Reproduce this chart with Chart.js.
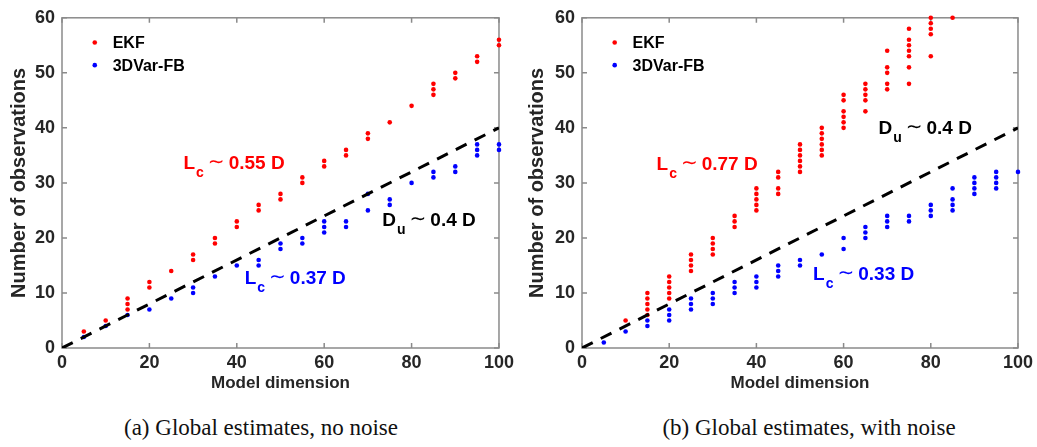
<!DOCTYPE html>
<html>
<head>
<meta charset="utf-8">
<script src="https://cdn.jsdelivr.net/npm/chart.js@4"></script>
<style>
  body { margin: 0; background: #fff; width: 1037px; height: 447px; position: relative; overflow: hidden; }
  canvas { position: absolute; top: 0; }
  #left { left: 0; }
  #right { left: 518px; }
  .caption { position: absolute; top: 415px; font-family: "Liberation Serif", "Times New Roman", serif; font-size: 23px; color: #111; white-space: nowrap; transform: translateX(-50%); }
</style>
</head>
<body>
<canvas id="left" width="518" height="400"></canvas>
<canvas id="right" width="519" height="400"></canvas>
<div class="caption" style="left:261px">(a) Global estimates, no noise</div>
<div class="caption" style="left:809px">(b) Global estimates, with noise</div>
<script>
// model dimensions (x positions of the point columns)
const dims = [5, 10, 15, 20, 25, 30, 35, 40, 45, 50, 55, 60, 65, 70, 75, 80, 85, 90, 95, 100];

// (a) no noise
const ekfNoNoise = [[3], [5], [9, 8, 7], [12, 11], [14], [17, 16], [20, 19], [23, 22], [26, 25], [28, 27],
  [31, 30], [34, 33], [36, 35], [39, 38], [41], [44], [48, 47, 46], [50, 49], [53, 52], [56, 55]];
const varNoNoise = [[2], [4], [6], [7], [9], [11, 10], [13], [15], [16, 15], [19, 18],
  [20, 19], [23, 22, 21], [23, 22], [28, 25], [27, 26], [30], [32, 31], [33, 32], [37, 36, 35], [37, 36]];

// (b) with noise
const ekfNoise = [[], [5], [10, 9, 8, 7, 6], [13, 12, 11, 10, 9], [17, 16, 15, 14], [20, 19, 18, 17], [24, 23, 22],
  [29, 28, 27, 26, 25], [32, 31, 29, 28], [37, 36, 35, 34, 33, 32], [40, 39, 38, 37, 36, 35],
  [46, 45, 43, 42, 41, 40], [48, 47, 46, 45, 43], [54, 51, 50, 48, 47], [58, 56, 55, 54, 53, 51, 48],
  [60, 59, 58, 57, 53], [60], [], [], []];
const varNoise = [[1], [3], [5, 4], [7, 6, 5], [9, 8, 7], [10, 9, 8], [12, 11, 10], [13, 12, 11], [15, 14, 13], [16, 15],
  [17], [20, 18], [22, 21, 20], [24, 23, 22], [24, 23], [26, 25, 24], [29, 27, 26, 25], [31, 30, 29, 28],
  [32, 31, 30, 29], [32]];

// D_u ~ 0.4 D reference line
const duX = [0, 100];
const duY = [0, 40];

const xTicks = [0, 20, 40, 60, 80, 100];
const yTicks = [0, 10, 20, 30, 40, 50, 60];

const RED = '#ff0000', BLUE = '#0000ff';
const FONT = '"Liberation Sans", Arial, Helvetica, sans-serif';

function toPoints(cols) {
  const pts = [];
  cols.forEach((vals, i) => vals.forEach(v => pts.push({ x: dims[i], y: v })));
  return pts;
}

// box, inward ticks, legend and the text notes
const decorPlugin = {
  id: 'decor',
  beforeDatasetsDraw(chart) {
    const { ctx, chartArea: a, scales: { x, y } } = chart;
    ctx.save();
    ctx.strokeStyle = '#8a8a8a';
    ctx.lineWidth = 1.5;
    ctx.strokeRect(a.left, a.top, a.right - a.left, a.bottom - a.top);
    ctx.beginPath();
    xTicks.forEach(t => {
      const px = x.getPixelForValue(t);
      ctx.moveTo(px, a.bottom); ctx.lineTo(px, a.bottom - 5);
      ctx.moveTo(px, a.top); ctx.lineTo(px, a.top + 5);
    });
    yTicks.forEach(t => {
      const py = y.getPixelForValue(t);
      ctx.moveTo(a.left, py); ctx.lineTo(a.left + 5, py);
      ctx.moveTo(a.right, py); ctx.lineTo(a.right - 5, py);
    });
    ctx.stroke();
    ctx.restore();
  },
  afterDatasetsDraw(chart, args, opts) {
    const { ctx, scales: { x, y } } = chart;
    ctx.save();
    // legend
    [['EKF', RED, 55.5], ['3DVar-FB', BLUE, 51.4]].forEach(([label, col, v]) => {
      ctx.fillStyle = col;
      ctx.beginPath();
      ctx.arc(x.getPixelForValue(7.5), y.getPixelForValue(v), 2.3, 0, Math.PI * 2);
      ctx.fill();
      ctx.fillStyle = '#000';
      ctx.font = 'bold 16px ' + FONT;
      ctx.textBaseline = 'middle';
      ctx.fillText(label, x.getPixelForValue(11.6), y.getPixelForValue(v) + 1);
    });
    // notes like  L_c ~ 0.55 D
    ctx.textBaseline = 'alphabetic';
    (opts.notes || []).forEach(n => {
      let px = x.getPixelForValue(n.x);
      const py = y.getPixelForValue(n.y);
      ctx.fillStyle = n.color;
      ctx.font = 'bold 19px ' + FONT;
      ctx.fillText(n.main, px, py);
      px += ctx.measureText(n.main).width;
      ctx.font = 'bold 14px ' + FONT;
      ctx.fillText(n.sub, px + 1, py + 8);
      px += ctx.measureText(n.sub).width + 5;
      ctx.font = '20px "DejaVu Sans", ' + FONT;
      ctx.fillText('\u223C', px, py - 1);
      px += ctx.measureText('\u223C').width + 4;
      ctx.font = 'bold 19px ' + FONT;
      ctx.fillText(n.rest, px, py);
    });
    ctx.restore();
  }
};

function makeChart(id, ekf, dvar, yWidth, padRight, notes) {
  const tickFont = { family: FONT, size: 18, weight: 'bold' };
  return new Chart(document.getElementById(id), {
    type: 'scatter',
    data: {
      datasets: [
        {
          type: 'line',
          data: duX.map((v, i) => ({ x: v, y: duY[i] })),
          borderColor: '#000',
          borderWidth: 3,
          borderDash: [12, 9],
          pointRadius: 0,
          fill: false
        },
        { data: toPoints(ekf), backgroundColor: RED, pointRadius: 2.3, borderWidth: 0, clip: false },
        { data: toPoints(dvar), backgroundColor: BLUE, pointRadius: 2.3, borderWidth: 0, clip: false }
      ]
    },
    options: {
      responsive: false,
      animation: false,
      events: [],
      layout: { padding: { left: 0, top: 15, right: padRight, bottom: 0 } },
      plugins: { legend: { display: false }, tooltip: { enabled: false }, decor: { notes } },
      scales: {
        x: {
          type: 'linear', min: 0, max: 100,
          afterBuildTicks: s => { s.ticks = xTicks.map(v => ({ value: v })); },
          afterFit: s => { s.height = 52; },
          grid: { display: false, drawTicks: false },
          border: { display: false },
          ticks: { font: tickFont, color: '#262626', padding: 4 },
          title: { display: true, text: 'Model dimension', font: { family: FONT, size: 17, weight: 'bold' }, color: '#262626', padding: { top: 0, bottom: 6 } }
        },
        y: {
          type: 'linear', min: 0, max: 60,
          afterBuildTicks: s => { s.ticks = yTicks.map(v => ({ value: v })); },
          afterFit: s => { s.width = yWidth; },
          grid: { display: false, drawTicks: false },
          border: { display: false },
          ticks: { font: tickFont, color: '#262626', padding: 7 },
          title: { display: true, text: 'Number of observations', font: { family: FONT, size: 20, weight: 'bold' }, color: '#262626', padding: { top: 7, bottom: 0 } }
        }
      }
    },
    plugins: [decorPlugin]
  });
}

makeChart('left', ekfNoNoise, varNoNoise, 62, 18, [
  { x: 27.8, y: 32.5, main: 'L', sub: 'c', rest: '0.55 D', color: RED },
  { x: 73.3, y: 22.2, main: 'D', sub: 'u', rest: '0.4 D', color: '#000' },
  { x: 41.8, y: 11.7, main: 'L', sub: 'c', rest: '0.37 D', color: BLUE }
]);
makeChart('right', ekfNoise, varNoise, 64, 17, [
  { x: 17.1, y: 32.3, main: 'L', sub: 'c', rest: '0.77 D', color: RED },
  { x: 68.0, y: 38.9, main: 'D', sub: 'u', rest: '0.4 D', color: '#000' },
  { x: 53.0, y: 12.3, main: 'L', sub: 'c', rest: '0.33 D', color: BLUE }
]);
</script>
</body>
</html>
